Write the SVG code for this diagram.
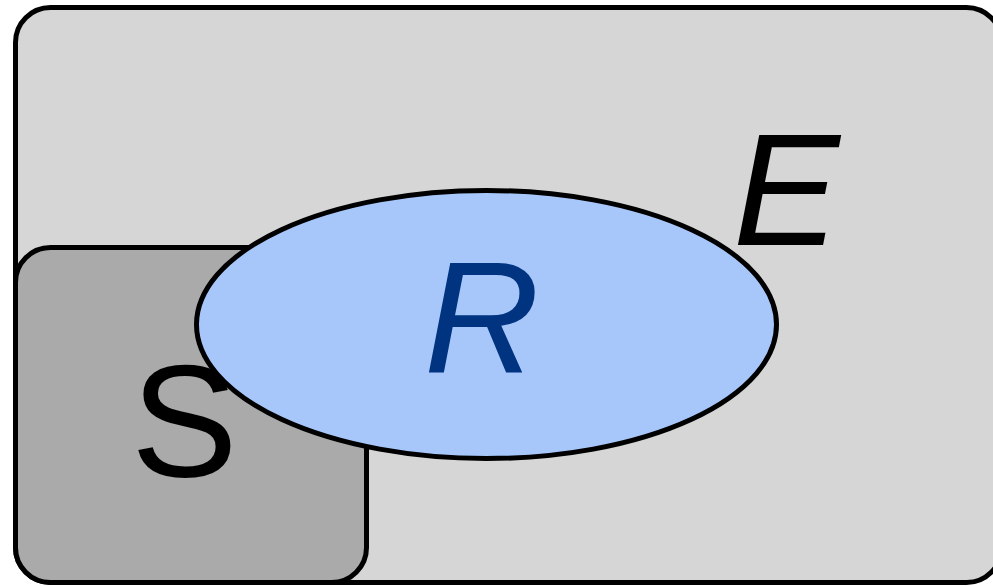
<svg xmlns="http://www.w3.org/2000/svg" width="993" height="586" viewBox="0 0 993 586">
<style>
.box{stroke:#000;stroke-width:5}
.lbl{font-family:"Liberation Sans",Arial,sans-serif;font-size:160px}
</style>
<rect width="993" height="586" fill="#fff"/>
<g id="E">
<rect class="box" x="15.5" y="7.5" width="986" height="575" rx="35" ry="35" fill="#d6d6d6"/>
<text class="lbl" x="733" y="245" font-style="italic" fill="#000">E</text>
</g>
<g id="S">
<rect class="box" x="15.5" y="247.5" width="351" height="335" rx="35" ry="35" fill="#aaaaaa"/>
<text class="lbl" x="131" y="476" fill="#000">S</text>
</g>
<g id="R">
<ellipse class="box" cx="486.5" cy="324.5" rx="290" ry="134" fill="#a7c7fa"/>
<text class="lbl" x="424" y="373" font-style="italic" fill="#003380">R</text>
</g>
<g id="connectors"/>
</svg>
